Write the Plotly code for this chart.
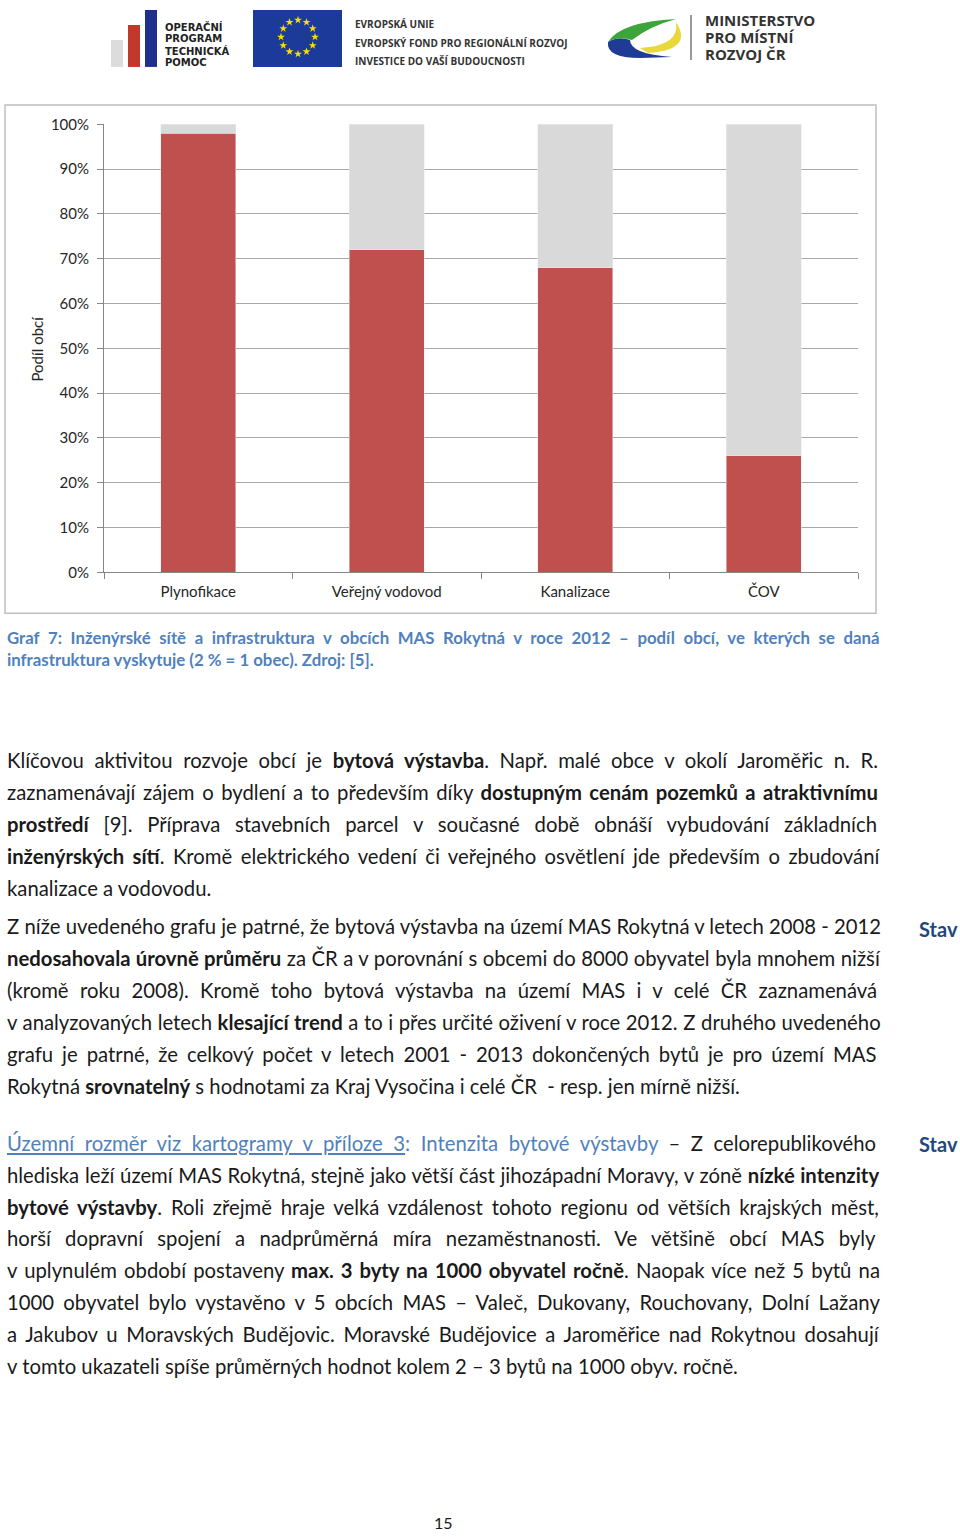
import math
import plotly.graph_objects as go

W, H = 960, 1537

# ---- data ----
categories = ["Plynofikace", "Veřejný vodovod", "Kanalizace", "ČOV"]
share_yes = [98, 72, 68, 26]          # % of municipalities with the infrastructure
share_no = [2, 28, 32, 74]            # remaining %
y_ticks = [0, 10, 20, 30, 40, 50, 60, 70, 80, 90, 100]
y_tick_text = [f"{v}%" for v in y_ticks]

FONT = "Lato"
RED = "#C0504D"
GREY = "#D9D9D9"

# vertical pixel -> paper fraction (small empirical correction of page offset)
Y0, YS = 8.0, 0.9895
def fy(t):
    return 1 - (t - Y0) / YS / H

fig = go.Figure()
fig.add_trace(go.Bar(x=categories, y=share_yes, marker_color=RED, width=0.4,
                     hoverinfo="skip", showlegend=False))
fig.add_trace(go.Bar(x=categories, y=share_no, marker_color=GREY, width=0.4,
                     hoverinfo="skip", showlegend=False))

# EU flag stars (logo decoration)
star_x = [298 + 17 * math.cos(2 * math.pi * k / 12) for k in range(12)]
star_y = [35 + 17 * math.sin(2 * math.pi * k / 12) for k in range(12)]
fig.add_trace(go.Scatter(x=star_x, y=star_y, xaxis="x2", yaxis="y2", mode="markers",
                         marker=dict(symbol="star", size=6, color="#FFDD00", line=dict(width=0)),
                         hoverinfo="skip", showlegend=False))

fig.update_layout(
    width=W, height=H, margin=dict(l=0, r=0, t=0, b=0),
    paper_bgcolor="white", plot_bgcolor="rgba(0,0,0,0)",
    barmode="stack",
    font=dict(family=FONT, size=15, color="#262626"),
    xaxis=dict(domain=[104 / W, 858 / W], type="category", tickson="boundaries",
               ticks="outside", ticklen=6, tickcolor="#868686", showline=True,
               linecolor="#868686", linewidth=1, showgrid=False, ticklabelstandoff=6,
               tickfont=dict(family=FONT, size=15, color="#262626"), fixedrange=True),
    yaxis=dict(domain=[fy(571), fy(122.5)], range=[0, 100], tickmode="array",
               tickvals=y_ticks, ticktext=y_tick_text, ticks="outside", ticklen=6,
               tickcolor="#868686", showline=True, linecolor="#868686", linewidth=1,
               showgrid=True, gridcolor="#A8A8A8", gridwidth=1, zeroline=False,
               ticklabelstandoff=5,
               tickfont=dict(family=FONT, size=15, color="#262626"), fixedrange=True),
    xaxis2=dict(domain=[0, 1], range=[0, W], visible=False, anchor="y2", fixedrange=True),
    yaxis2=dict(domain=[0, 1], range=[Y0 + YS * H, Y0], visible=False, anchor="x2",
                fixedrange=True),
)

shapes = []
shapes.append(dict(type="rect", xref="x2", yref="y2", x0=5, y0=103, x1=876, y1=612,
                   line=dict(color="#BFBFBF", width=1.5), fillcolor="rgba(0,0,0,0)", layer="below"))
# OPTP logo bars
shapes.append(dict(type="rect", xref="x2", yref="y2", x0=111, y0=38, x1=123, y1=65,
                   line=dict(width=0), fillcolor="#DCDCDC"))
shapes.append(dict(type="rect", xref="x2", yref="y2", x0=128, y0=23, x1=140, y1=65,
                   line=dict(width=0), fillcolor="#C0392B"))
shapes.append(dict(type="rect", xref="x2", yref="y2", x0=145, y0=6, x1=157, y1=65,
                   line=dict(width=0), fillcolor="#1F2F8F"))
# EU flag
shapes.append(dict(type="rect", xref="x2", yref="y2", x0=253, y0=6, x1=342, y1=65,
                   line=dict(width=0), fillcolor="#1B3A9A", layer="below"))
# MMR logo swooshes
shapes.append(dict(type="path", xref="x2", yref="y2",
                   path="M 608 40 Q 606 56 640 56 L 672 55 Q 630 52 630 38 Q 618 34 608 40 Z",
                   line=dict(width=0), fillcolor="#1E3C96"))
shapes.append(dict(type="path", xref="x2", yref="y2",
                   path="M 608 40 Q 620 20 676 17 Q 650 24 632 38 Q 618 34 608 40 Z",
                   line=dict(width=0), fillcolor="#3BA53A"))
shapes.append(dict(type="path", xref="x2", yref="y2",
                   path="M 640 46 Q 680 44 676 20 Q 694 48 648 51 Z",
                   line=dict(width=0), fillcolor="#E8D83A"))
shapes.append(dict(type="line", xref="x2", yref="y2", x0=691, y0=13, x1=691, y1=58,
                   line=dict(color="#555555", width=1.2)))
fig.update_layout(shapes=shapes)

ann = []

def text(x, y, s, size=20.3, color="#1a1a1a", bold=False, anchor="left", family=FONT,
         angle=0, ws=0.0):
    if bold:
        s = "<b>" + s + "</b>"
    if ws:
        s = f"<span style='word-spacing:{ws:.2f}px'>" + s + "</span>"
    ann.append(dict(xref="x2", yref="y2", x=x, y=y, text=s, showarrow=False,
                    xanchor=anchor, yanchor="middle", textangle=angle,
                    font=dict(family=family, size=size, color=color)))

# logo texts
for i, t in enumerate(["OPERAČNÍ", "PROGRAM", "TECHNICKÁ", "POMOC"]):
    text(163, 25 + i * 12, t, size=10, color="#222222", bold=True, family="DejaVu Sans")
for t, y in [("EVROPSKÁ UNIE", 22), ("EVROPSKÝ FOND PRO REGIONÁLNÍ ROZVOJ", 41),
             ("INVESTICE DO VAŠÍ BUDOUCNOSTI", 59)]:
    text(353, y, t, size=10, color="#333333", bold=True, family="Open Sans")
for t, y in [("MINISTERSTVO", 18), ("PRO MÍSTNÍ", 35), ("ROZVOJ ČR", 52)]:
    text(703, y, t, size=15, color="#333333", bold=True, family="Open Sans")

# y axis title
text(37, 347, "Podíl obcí", size=15, color="#262626", anchor="center", angle=-90)

# caption
CAP = "#4F81BD"
text(5, 636, "Graf 7: Inženýrské sítě a infrastruktura v obcích MAS Rokytná v roce 2012 – podíl obcí, ve kterých se daná",
     size=16.8, color=CAP, bold=True, ws=4.55)
text(5, 658, "infrastruktura vyskytuje (2 % = 1 obec). Zdroj: [5].", size=16.8, color=CAP, bold=True)

para1 = [
    "Klíčovou aktivitou rozvoje obcí je <b>bytová výstavba</b>. Např. malé obce v okolí Jaroměřic n. R.",
    "zaznamenávají zájem o bydlení a to především díky <b>dostupným cenám pozemků a atraktivnímu</b>",
    "<b>prostředí</b> [9]. Příprava stavebních parcel v současné době obnáší vybudování základních",
    "<b>inženýrských sítí</b>. Kromě elektrického vedení či veřejného osvětlení jde především o zbudování",
    "kanalizace a vodovodu.",
]
para1_ws = [5.4, 2.4, 9.6, 3.3, 0]
para2 = [
    "Z níže uvedeného grafu je patrné, že bytová výstavba na území MAS Rokytná v letech 2008 - 2012",
    "<b>nedosahovala úrovně průměru</b> za ČR a v porovnání s obcemi do 8000 obyvatel byla mnohem nižší",
    "(kromě roku 2008). Kromě toho bytová výstavba na území MAS i v celé ČR zaznamenává",
    "v analyzovaných letech <b>klesající trend</b> a to i přes určité oživení v roce 2012. Z druhého uvedeného",
    "grafu je patrné, že celkový počet v letech 2001 - 2013 dokončených bytů je pro území MAS",
    "Rokytná <b>srovnatelný</b> s hodnotami za Kraj Vysočina i celé ČR  - resp. jen mírně nižší.",
]
para2_ws = [0, 0.3, 6.2, 0.4, 3.8, 0]
para3 = [
    "<span style='color:#4F81BD'><u>Územní rozměr viz kartogramy v příloze 3</u>: Intenzita bytové výstavby</span> – Z celorepublikového",
    "hlediska leží území MAS Rokytná, stejně jako větší část jihozápadní Moravy, v zóně <b>nízké intenzity</b>",
    "<b>bytové výstavby</b>. Roli zřejmě hraje velká vzdálenost tohoto regionu od větších krajských měst,",
    "horší dopravní spojení a nadprůměrná míra nezaměstnanosti. Ve většině obcí MAS byly",
    "v uplynulém období postaveny <b>max. 3 byty na 1000 obyvatel ročně</b>. Naopak více než 5 bytů na",
    "1000 obyvatel bylo vystavěno v 5 obcích MAS – Valeč, Dukovany, Rouchovany, Dolní Lažany",
    "a Jakubov u Moravských Budějovic. Moravské Budějovice a Jaroměřice nad Rokytnou dosahují",
    "v tomto ukazateli spíše průměrných hodnot kolem 2 – 3 bytů na 1000 obyv. ročně.",
]
para3_ws = [5.4, 0.5, 3.6, 9.1, 2.0, 4.1, 3.5, 0]

for start, lines, wss in [(759, para1, para1_ws), (925, para2, para2_ws), (1142, para3, para3_ws)]:
    for i, (ln, w) in enumerate(zip(lines, wss)):
        text(5, start + 32 * i, ln, ws=w)

text(917, 928, "Stav", size=20, color="#1F497D", bold=True)
text(917, 1143, "Stav", size=20, color="#1F497D", bold=True)
text(443, 1522, "15", size=16, anchor="center")

fig.update_layout(annotations=ann)
fig.write_html("out.html")
